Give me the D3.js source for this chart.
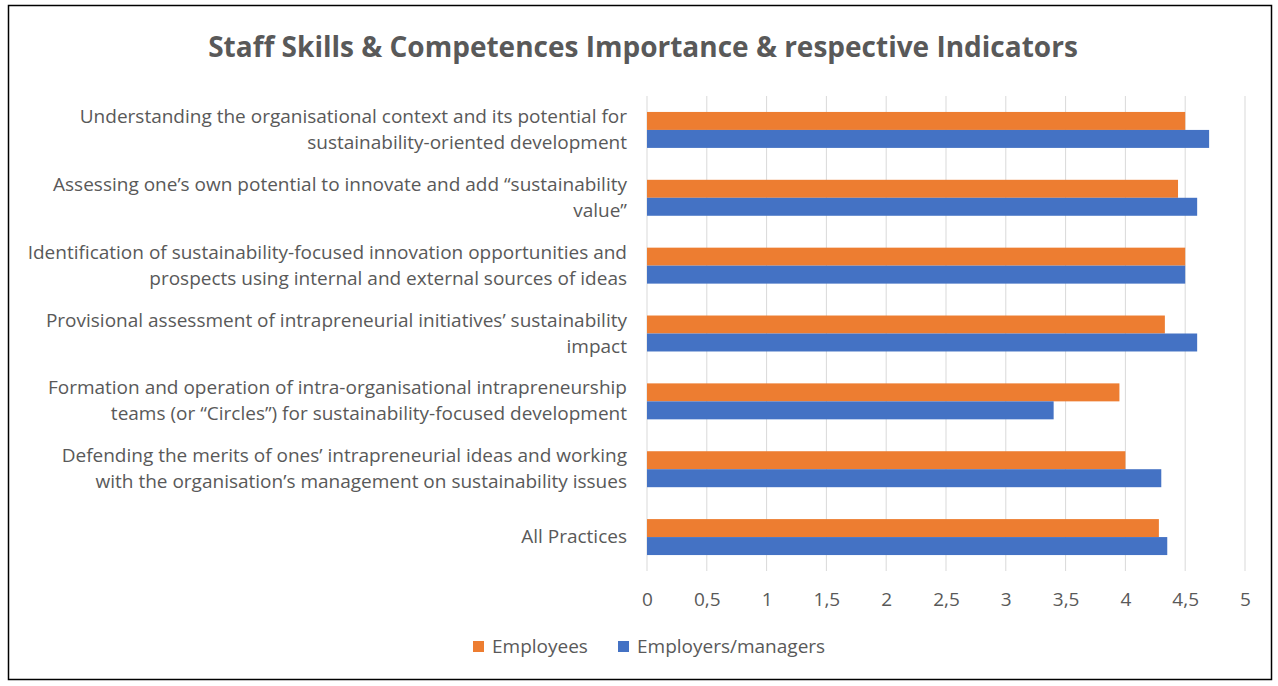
<!DOCTYPE html>
<html><head><meta charset="utf-8">
<script src="https://cdn.jsdelivr.net/npm/d3@7"></script>
<style>body{margin:0;background:#fff}svg{display:block}text{font-family:"Open Sans","Liberation Sans",sans-serif}</style>
</head><body><svg id="c" width="1278" height="686"></svg>
<script>
const categories = [
  ["Understanding the organisational context and its potential for","sustainability-oriented development"],
  ["Assessing one\u2019s own potential to innovate and add \u201csustainability","value\u201d"],
  ["Identification of sustainability-focused innovation opportunities and","prospects using internal and external sources of ideas"],
  ["Provisional assessment of intrapreneurial initiatives\u2019 sustainability","impact"],
  ["Formation and operation of intra-organisational intrapreneurship","teams (or \u201cCircles\u201d) for sustainability-focused development"],
  ["Defending the merits of ones\u2019 intrapreneurial ideas and working","with the organisation\u2019s management on sustainability issues"],
  ["All Practices"]
];
const employees = [4.5, 4.44, 4.5, 4.33, 3.95, 4.0, 4.28];
const managers  = [4.7, 4.6, 4.5, 4.6, 3.4, 4.3, 4.35];
const seriesNames = ["Employees", "Employers/managers"];
const seriesColors = ["#ED7D31", "#4472C4"];
const tickValues = [0,0.5,1,1.5,2,2.5,3,3.5,4,4.5,5];

const svg = d3.select("#c");
svg.append("rect").attr("x",8.5).attr("y",5.5).attr("width",1263).attr("height",674)
  .attr("fill","#fff").attr("stroke","#000").attr("stroke-width",1.5);

svg.append("text").attr("x",643).attr("y",57).attr("text-anchor","middle")
  .attr("font-size",28).attr("font-weight","bold").attr("fill","#595959")
  .text("Staff Skills & Competences Importance & respective Indicators");

const x = d3.scaleLinear().domain([0,5]).range([647,1245]);
const y = d3.scaleBand().domain(d3.range(categories.length)).range([96,571]).paddingInner(0.47).paddingOuter(0.235);
const sub = d3.scaleBand().domain([0,1]).range([0,y.bandwidth()]);

svg.append("g").selectAll("line").data(tickValues).join("line")
  .attr("x1",d=>x(d)).attr("x2",d=>x(d)).attr("y1",96).attr("y2",571)
  .attr("stroke","#d9d9d9").attr("stroke-width",1);

const data = [employees, managers];
data.forEach((vals,si)=>{
  svg.append("g").selectAll("rect").data(vals).join("rect")
    .attr("x",x(0)).attr("y",(d,i)=>y(i)+sub(si))
    .attr("width",d=>x(d)-x(0)).attr("height",sub.bandwidth())
    .attr("fill",seriesColors[si]);
});

const ax = svg.append("g").attr("transform","translate(0,571)")
  .call(d3.axisBottom(x).tickValues(tickValues).tickSize(0).tickPadding(22)
    .tickFormat(d=>String(d).replace(".",",")));
ax.select(".domain").remove();
ax.selectAll("text").attr("font-size",19).attr("fill","#595959").style("font-family","'Open Sans', sans-serif");

const lg = svg.append("g");
categories.forEach((lines,i)=>{
  const cy = y(i)+y.bandwidth()/2;
  const lh = 26;
  const t = lg.append("text").attr("text-anchor","end").attr("font-size",19).attr("fill","#595959");
  lines.forEach((ln,k)=>{
    t.append("tspan").attr("x",627).attr("y",cy + (k-(lines.length-1)/2)*lh + 6).text(ln);
  });
});

const legX = [473, 618];
seriesNames.forEach((n,i)=>{
  svg.append("rect").attr("x",legX[i]).attr("y",641).attr("width",11).attr("height",11).attr("fill",seriesColors[i]);
  svg.append("text").attr("x",legX[i]+19).attr("y",653).attr("font-size",19).attr("fill","#595959").text(n);
});
</script></body></html>
